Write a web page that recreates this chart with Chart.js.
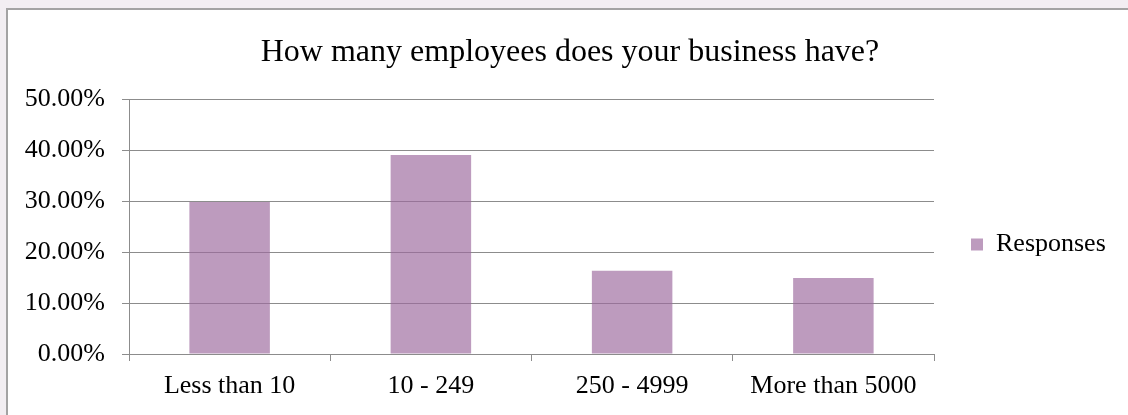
<!DOCTYPE html>
<html>
<head>
<meta charset="utf-8">
<script src="https://cdn.jsdelivr.net/npm/chart.js@4/dist/chart.umd.min.js"></script>
<style>
  html, body { margin: 0; padding: 0; background: #F2EEF2; overflow: hidden; }
  #wrap { position: absolute; left: 0; top: 0; width: 1128px; height: 415px; }
</style>
</head>
<body>
<div id="wrap"><canvas id="c" width="1128" height="415"></canvas></div>
<script>
const titleText = 'How many employees does your business have?';
const categories = ['Less than 10', '10 - 249', '250 - 4999', 'More than 5000'];
const seriesName = 'Responses';
const responses = [29.8, 39.0, 16.3, 14.9];
const yTicks = [0, 10, 20, 30, 40, 50];

const FONT = '"Liberation Serif", "Times New Roman", Times, serif';

const frame = {
  id: 'frame',
  beforeDraw(chart) {
    const ctx = chart.ctx;
    ctx.save();
    ctx.fillStyle = '#F2EEF2';
    ctx.fillRect(0, 0, chart.width, chart.height);
    ctx.fillStyle = '#FFFFFF';
    ctx.fillRect(7, 9, chart.width, chart.height);
    ctx.strokeStyle = '#A3A3A3';
    ctx.lineWidth = 2;
    ctx.beginPath();
    ctx.moveTo(7, chart.height + 5);
    ctx.lineTo(7, 9);
    ctx.lineTo(chart.width + 5, 9);
    ctx.stroke();
    ctx.restore();
  }
};

const layoutFix = {
  id: 'layoutFix',
  beforeLayout(chart) {
    const lg = chart.legend;
    if (lg && !lg._patched) {
      const orig = lg.fit;
      lg.fit = function () { orig.call(this); this.width = 194; };
      lg._patched = true;
    }
  },
  afterLayout(chart) {
    const lg = chart.legend;
    if (lg) { lg.top += 37; lg.bottom += 37; }
    const tb = chart.titleBlock;
    if (tb) { tb.left += 6; tb.right += 6; }
  }
};

new Chart(document.getElementById('c'), {
  type: 'bar',
  data: {
    labels: categories,
    datasets: [{
      label: seriesName,
      data: responses,
      backgroundColor: 'rgba(157,106,158,0.67)',
      borderWidth: 0,
      barPercentage: 0.8,
      categoryPercentage: 0.5
    }]
  },
  options: {
    responsive: false,
    animation: false,
    events: [],
    layout: { padding: { left: 0, right: 0, top: 0, bottom: 0 } },
    plugins: {
      title: {
        display: true,
        text: titleText,
        color: '#000',
        font: { family: FONT, size: 32, weight: 'normal' },
        padding: { top: 33.8, bottom: 26.8 }
      },
      legend: {
        position: 'right',
        labels: {
          color: '#000',
          font: { family: FONT, size: 26 },
          boxWidth: 12,
          boxHeight: 12,
          padding: 37
        }
      },
      tooltip: { enabled: false }
    },
    scales: {
      x: {
        grid: { display: true, drawOnChartArea: false, drawTicks: true, tickLength: 7, color: '#8C8C8C', offset: true },
        border: { display: true, color: '#8C8C8C' },
        ticks: { color: '#000', font: { family: FONT, size: 26 }, padding: 10, maxRotation: 0 },
        afterFit(s) { s.height = 61; }
      },
      y: {
        min: 0,
        max: 50,
        afterBuildTicks(s) { s.ticks = yTicks.map(v => ({ value: v })); },
        grid: { color: '#8C8C8C', tickLength: 7, drawTicks: true },
        border: { display: true, color: '#8C8C8C' },
        ticks: {
          color: '#000',
          font: { family: FONT, size: 26 },
          padding: 17,
          callback: v => Number(v).toFixed(2) + '%'
        },
        afterFit(s) { s.width = 129; }
      }
    }
  },
  plugins: [frame, layoutFix]
});
</script>
</body>
</html>
